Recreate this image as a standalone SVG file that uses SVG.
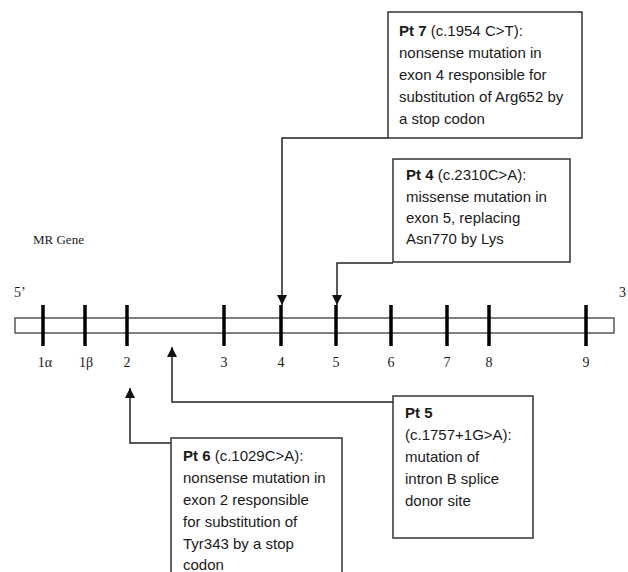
<svg xmlns="http://www.w3.org/2000/svg" width="628" height="572" viewBox="0 0 628 572">
<defs>
<marker id="ah" viewBox="0 0 10 10" refX="10" refY="5" markerWidth="10" markerHeight="10" markerUnits="userSpaceOnUse" orient="auto">
<path d="M0,0 L10,5 L0,10 Z" fill="#111"/>
</marker>
<style>
.box{fill:#fff;stroke:#333;stroke-width:1.5}
.t{font-family:"Liberation Sans",Arial,sans-serif;font-size:15px;fill:#1a1a1a}
.b{font-weight:bold}
.s{font-family:"Liberation Serif","Times New Roman",serif;font-size:14px;fill:#1a1a1a}
.tick{stroke:#000;stroke-width:3.5}
.conn{fill:none;stroke:#222;stroke-width:1.5}
</style>
</defs>
<rect width="628" height="572" fill="#fff"/>
<g id="gene">
<text class="s" x="33" y="244" style="font-size:13px">MR Gene</text>
<text class="s" x="14" y="297">5’</text>
<text class="s" x="619" y="297">3</text>
<rect x="15" y="318" width="599" height="15" fill="#fff" stroke="#555" stroke-width="1.5"/>
<g class="tick">
<line x1="43" y1="305" x2="43" y2="346"/>
<line x1="85" y1="305" x2="85" y2="346"/>
<line x1="127" y1="305" x2="127" y2="346"/>
<line x1="224" y1="305" x2="224" y2="346"/>
<line x1="281" y1="305" x2="281" y2="346"/>
<line x1="336" y1="305" x2="336" y2="346"/>
<line x1="391" y1="305" x2="391" y2="346"/>
<line x1="447" y1="305" x2="447" y2="346"/>
<line x1="489" y1="305" x2="489" y2="346"/>
<line x1="586" y1="305" x2="586" y2="346"/>
</g>
<g text-anchor="middle">
<text class="s" x="45" y="367">1α</text>
<text class="s" x="86" y="367">1β</text>
<text class="s" x="127" y="367">2</text>
<text class="s" x="224" y="367">3</text>
<text class="s" x="281" y="367">4</text>
<text class="s" x="336" y="367">5</text>
<text class="s" x="391" y="367">6</text>
<text class="s" x="447" y="367">7</text>
<text class="s" x="489" y="367">8</text>
<text class="s" x="586" y="367">9</text>
</g>
</g>
<g id="connectors">
<path class="conn" d="M388,138 H282 V305" marker-end="url(#ah)"/>
<path class="conn" d="M393,263 H337 V305" marker-end="url(#ah)"/>
<path class="conn" d="M393,402 H172 V347" marker-end="url(#ah)"/>
<path class="conn" d="M171,443 H130 V388" marker-end="url(#ah)"/>
</g>
<g id="pt7">
<rect class="box" x="388" y="12" width="194" height="126"/>
<text class="t" x="399" y="36"><tspan class="b">Pt 7</tspan> (c.1954 C&gt;T):</text>
<text class="t" x="399" y="58">nonsense mutation in</text>
<text class="t" x="399" y="80">exon 4 responsible for</text>
<text class="t" x="399" y="102">substitution of Arg652 by</text>
<text class="t" x="399" y="124">a stop codon</text>
</g>
<g id="pt4">
<rect class="box" x="393" y="159" width="177" height="103"/>
<text class="t" x="406" y="180"><tspan class="b">Pt 4</tspan> (c.2310C&gt;A):</text>
<text class="t" x="406" y="202">missense mutation in</text>
<text class="t" x="406" y="223">exon 5, replacing</text>
<text class="t" x="406" y="244">Asn770 by Lys</text>
</g>
<g id="pt5">
<rect class="box" x="393" y="396" width="140" height="142"/>
<text class="t b" x="405" y="418">Pt 5</text>
<text class="t" x="405" y="440">(c.1757+1G&gt;A):</text>
<text class="t" x="405" y="462">mutation of</text>
<text class="t" x="405" y="484">intron B splice</text>
<text class="t" x="405" y="506">donor site</text>
</g>
<g id="pt6">
<rect class="box" x="171" y="438" width="171" height="150"/>
<text class="t" x="183" y="461"><tspan class="b">Pt 6</tspan> (c.1029C&gt;A):</text>
<text class="t" x="183" y="483">nonsense mutation in</text>
<text class="t" x="183" y="505">exon 2 responsible</text>
<text class="t" x="183" y="527">for substitution of</text>
<text class="t" x="183" y="549">Tyr343 by a stop</text>
<text class="t" x="183" y="570">codon</text>
</g>
</svg>
